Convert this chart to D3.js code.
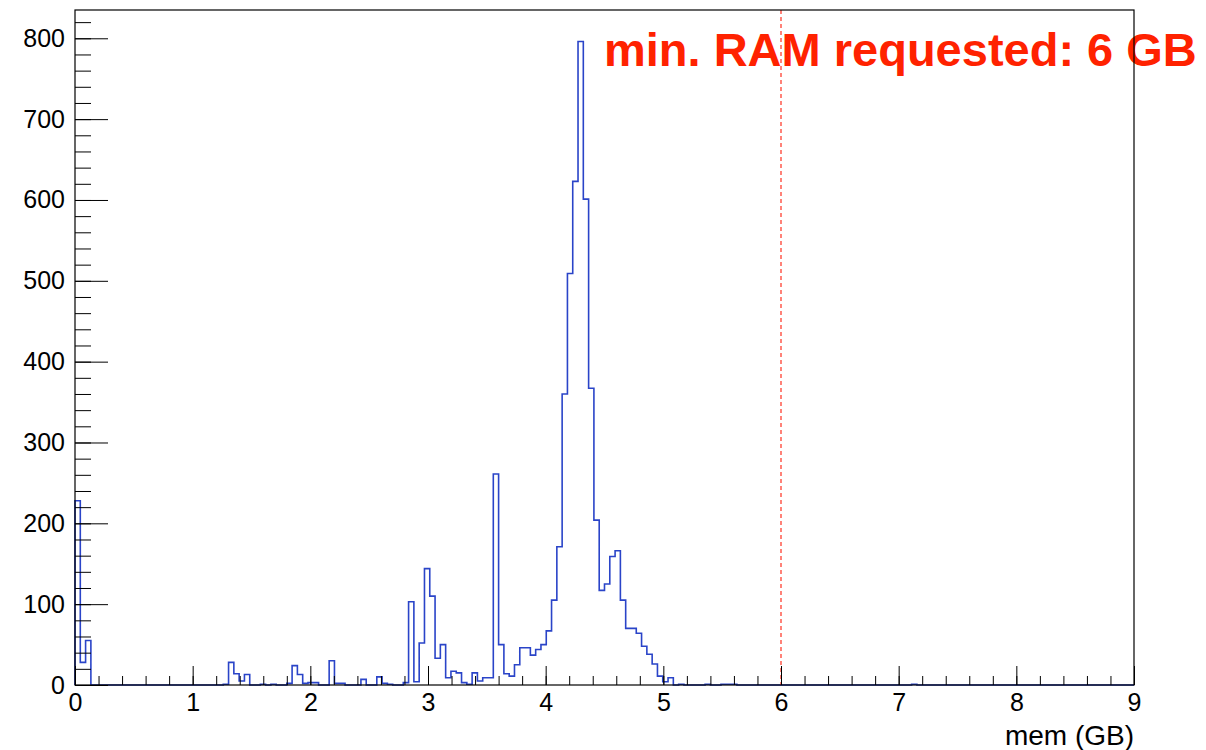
<!DOCTYPE html>
<html>
<head>
<meta charset="utf-8">
<script src="https://cdn.jsdelivr.net/npm/d3@7"></script>
<style>
  body { margin: 0; background: #fff; }
  svg { font-family: "Liberation Sans", Arial, sans-serif; }
  .tick text { font-size: 25px; fill: #000; }
</style>
</head>
<body>
<svg id="chart" width="1206" height="750"></svg>
<script>
// histogram: 200 bins from 0 to 9 GB, only the non-empty bins are listed
const nBins = 200;
const xMin = 0;
const xMax = 9;
const binIndex = [0, 1, 2, 28, 29, 30, 31, 32, 35, 37, 40, 41, 42, 43, 44, 45, 48, 49, 50, 54,
  57, 58, 59, 62, 63, 64, 65, 66, 67, 68, 69, 70, 71, 72, 73, 74, 75, 76, 77, 78,
  79, 80, 81, 82, 83, 84, 85, 86, 87, 88, 89, 90, 91, 92, 93, 94, 95, 96, 97, 98,
  99, 100, 101, 102, 103, 104, 105, 106, 107, 108, 109, 110, 111, 112, 114, 119, 122, 123, 124, 158];
const binCount = [228, 28, 55, 1, 28, 14, 5, 13, 1, 1, 2, 24, 13, 2, 3, 3, 30, 2, 2, 7,
  10, 2, 1, 3, 103, 4, 52, 144, 110, 33, 50, 9, 17, 15, 3, 1, 15, 5, 9, 9,
  261, 50, 14, 11, 25, 46, 46, 37, 44, 50, 67, 105, 171, 360, 509, 623, 796, 601, 367, 204,
  117, 125, 159, 166, 105, 70, 70, 64, 48, 38, 26, 11, 4, 9, 1, 1, 1, 1, 1, 1];

const xMajor = d3.range(0, 10, 1);
const xMinor = d3.range(0, 9.001, 0.2);
const yMajor = d3.range(0, 801, 100);
const yMinor = d3.range(0, 821, 20);
const yMaxShown = 835;

const reqRam = 6;
const reqLabel = "min. RAM requested: 6 GB";
const xTitle = "mem (GB)";

const svg = d3.select("#chart");

const padL = 75, padR = 1134, padT = 10, padB = 685;

const x = d3.scaleLinear().domain([xMin, xMax]).range([padL, padR]);
const y = d3.scaleLinear().domain([0, yMaxShown]).range([padB, padT]);

// fill the full bin table from the sparse lists
const counts = new Array(nBins).fill(0);
binIndex.forEach((b, i) => counts[b] = binCount[i]);
const bw = (xMax - xMin) / nBins;

const pts = [[x(xMin), y(0)]];
counts.forEach((c, i) => {
  pts.push([x(xMin + i * bw), y(c)]);
  pts.push([x(xMin + (i + 1) * bw), y(c)]);
});
pts.push([x(xMax), y(0)]);

svg.append("path")
  .attr("d", d3.line()(pts))
  .attr("fill", "none")
  .attr("stroke", "#2a44c8")
  .attr("stroke-width", 1.6);

// label and cut line
svg.append("text")
  .attr("x", 604)
  .attr("y", 66)
  .attr("fill", "#ff2200")
  .attr("font-weight", "bold")
  .attr("font-size", 47)
  .text(reqLabel);

svg.append("line")
  .attr("x1", x(reqRam)).attr("x2", x(reqRam))
  .attr("y1", padT).attr("y2", padB)
  .attr("stroke", "#ff3020")
  .attr("stroke-width", 1.2)
  .attr("stroke-dasharray", "4,3");

// axes, ticks point into the frame (minor and major in separate groups)
svg.append("g").attr("transform", `translate(0, ${padB})`)
  .call(d3.axisBottom(x).tickValues(xMinor).tickSize(-9).tickFormat(""));
svg.append("g").attr("transform", `translate(0, ${padB})`)
  .call(d3.axisBottom(x).tickValues(xMajor).tickSize(-19).tickPadding(8).tickFormat(d3.format("d")));

svg.append("g").attr("transform", `translate(${padL}, 0)`)
  .call(d3.axisLeft(y).tickValues(yMinor).tickSize(-16).tickFormat(""));
svg.append("g").attr("transform", `translate(${padL}, 0)`)
  .call(d3.axisLeft(y).tickValues(yMajor).tickSize(-33).tickPadding(10).tickFormat(d3.format("d")));

svg.selectAll(".domain").remove();
svg.selectAll(".tick line").attr("stroke", "#000").attr("stroke-width", 1);

svg.append("rect")
  .attr("x", padL).attr("y", padT)
  .attr("width", padR - padL).attr("height", padB - padT)
  .attr("fill", "none")
  .attr("stroke", "#000")
  .attr("stroke-width", 1.2);

svg.append("text")
  .attr("x", padR)
  .attr("y", 745)
  .attr("text-anchor", "end")
  .attr("font-size", 28)
  .text(xTitle);
</script>
</body>
</html>
